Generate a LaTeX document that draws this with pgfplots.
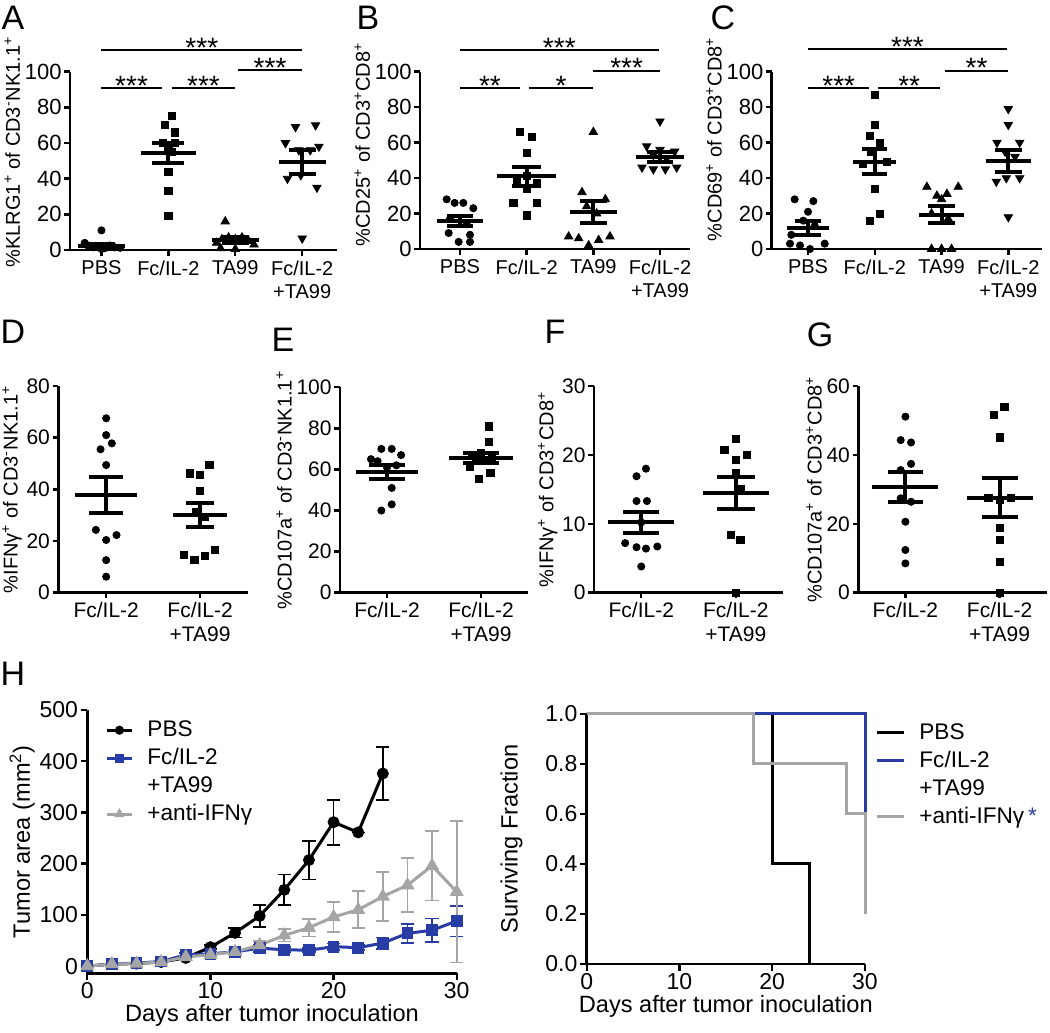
\documentclass[border=0pt]{standalone}
\usepackage{fontspec}
\setmainfont{Liberation Sans}
\usepackage{pgfplots}
\pgfplotsset{compat=1.18}
\definecolor{gpblue}{RGB}{40,60,165}
\definecolor{gpgrey}{RGB}{165,165,165}

\pgfplotsset{
  gp/.style={scale only axis, anchor=south west, axis lines=left,
    axis line style={-, line width=1.4pt, black},
    tick align=outside, major tick length=2.8pt,
    tick style={black, line width=1.2pt},
    /pgf/number format/assume math mode=true, clip=false,
    tick label style={font=\fontsize{11}{12}\selectfont, inner sep=1.2pt},
    label style={font=\fontsize{10}{11}\selectfont},
    ylabel style={inner sep=1pt}},
  cat4/.style={xtick={1,2,3,4}, xticklabels={PBS,Fc/IL-2,TA99,{Fc/IL-2\\+TA99}},
    xticklabel style={align=center, font=\fontsize{10}{11.5}\selectfont, inner sep=2.5pt},
    ymin=0, ymax=100, ytick={0,20,...,100}},
  cat2/.style={xtick={1,2}, xticklabels={Fc/IL-2,{Fc/IL-2\\+TA99}},
    xticklabel style={align=center, font=\fontsize{10.5}{12}\selectfont, inner sep=2pt},
    yticklabel style={font=\fontsize{10.5}{12}\selectfont},
    xmin=0.5, xmax=2.5, ymin=0},
  dot/.style={only marks, mark=*, mark size=1.8pt, black},
  sq/.style={only marks, mark=square*, mark size=1.8pt, black},
  tri/.style={only marks, mark=triangle*, mark size=2.4pt, black},
  dtri/.style={only marks, mark=triangle*, mark size=2.4pt, black, mark options={rotate=180}},
  msem/.style={black, line width=2pt, mark=none},
  hleg/.style={legend style={draw=none, fill=none, anchor=north west,
      inner sep=0pt, column sep=6pt, font=\fontsize{11.3}{12}\selectfont,
      nodes={text height=9.3pt, text depth=2.7pt, inner sep=1pt}},
    legend cell align=left},
}

% mean line with SEM whiskers: x, mean, sem, half width of mean line, half width of caps
\newcommand\msem[5]{%
  \pgfmathsetmacro\mA{#1-#4}\pgfmathsetmacro\mB{#1+#4}%
  \pgfmathsetmacro\cA{#1-#5}\pgfmathsetmacro\cB{#1+#5}%
  \pgfmathsetmacro\eL{#2-#3}\pgfmathsetmacro\eH{#2+#3}%
  \edef\msemdo{%
    \noexpand\addplot[msem] coordinates {(\mA,#2) (\mB,#2)};
    \noexpand\addplot[msem] coordinates {(\cA,\eL) (\cB,\eL)};
    \noexpand\addplot[msem] coordinates {(\cA,\eH) (\cB,\eH)};
    \noexpand\addplot[msem] coordinates {(#1,\eL) (#1,\eH)};
  }\msemdo}
% significance bar
\newcommand\sig[4]{\draw[line width=0.9pt] (axis cs:#1,#3) -- (axis cs:#2,#3)
  node[midway, anchor=base, yshift=-3.6pt, inner sep=0pt, font=\fontsize{14}{14}\selectfont] {#4};}

\begin{document}
\begin{tikzpicture}
\useasboundingbox (0,0) rectangle (525pt,516.5pt);

% ---------------- A
\begin{axis}[gp, cat4, at={(35pt,391.5pt)}, width=133.5pt, height=89.15pt,
  xmin=0.53, xmax=4.52,
  ylabel={\%KLRG1\textsuperscript{+} of CD3\textsuperscript{-}NK1.1\textsuperscript{+}},
  ylabel style={at={(ticklabel cs:0.55)}}]
\addplot[dot] coordinates {(1.0,11) (0.75,4) (0.8,2.5) (0.88,1.5) (0.95,2) (1.05,1) (1.12,2.5) (1.2,1.5) (1.28,1.2) (1.0,0.5)};
\addplot[sq] coordinates {(2.05,75) (1.95,70) (2.1,66) (1.92,60) (2.1,60) (2.0,57) (2.05,55) (2.0,44) (2.0,33) (2.0,19)};
\addplot[tri] coordinates {(2.85,16) (2.72,4) (2.8,6) (2.9,7) (3.0,6) (3.1,7) (3.2,5) (3.28,3) (2.78,1) (3.0,0.5)};
\addplot[dtri] coordinates {(3.9,69) (4.2,70) (3.75,60) (4.25,58) (3.95,56) (4.12,56) (3.78,40) (3.98,42) (4.22,35) (4.0,6.5)};
\msem{1}{2.5}{1.0}{0.35}{0.2}
\msem{2}{54.3}{5.7}{0.41}{0.24}
\msem{3}{5.6}{1.6}{0.35}{0.2}
\msem{4}{49.3}{6.5}{0.35}{0.2}
\sig{1}{4}{112.2}{***}
\sig{3.04}{4}{101}{***}
\sig{1}{1.9}{90.7}{***}
\sig{2.05}{3}{90.7}{***}
\end{axis}

% ---------------- B
\begin{axis}[gp, cat4, at={(210pt,392pt)}, width=135pt, height=88.65pt,
  xmin=0.4, xmax=4.45,
  ylabel={\%CD25\textsuperscript{+} of  CD3\textsuperscript{+}CD8\textsuperscript{+}},
  ylabel style={at={(ticklabel cs:0.59)}}]
\addplot[dot] coordinates {(0.8,28) (0.92,26) (1.05,26) (1.2,23) (0.85,17) (1.1,14) (0.83,9) (1.15,8) (0.98,4) (1.15,4)};
\addplot[sq] coordinates {(1.9,66) (2.08,63) (2.0,54) (1.85,39) (2.15,37) (2.0,34) (1.8,26) (2.15,26) (2.0,19) (2.0,41)};
\addplot[tri] coordinates {(3.0,66) (2.83,32) (3.18,28) (2.9,24) (3.05,20) (2.63,7) (3.25,7) (3.08,5) (2.93,2) (2.78,6)};
\addplot[dtri] coordinates {(4.0,72) (3.8,58) (4.0,56) (4.22,55) (3.9,53) (4.1,51) (3.73,46) (3.9,45) (4.08,45) (4.25,46)};
\msem{1}{15.9}{2.9}{0.35}{0.2}
\msem{2}{40.9}{5.2}{0.44}{0.22}
\msem{3}{20.8}{6.3}{0.35}{0.2}
\msem{4}{51.9}{2.8}{0.355}{0.2}
\sig{1}{3.98}{112.2}{***}
\sig{3}{4}{100.6}{***}
\sig{1}{1.9}{90.6}{**}
\sig{2.03}{3}{90.6}{*}
\end{axis}

% ---------------- C
\begin{axis}[gp, cat4, at={(385.85pt,392pt)}, width=135pt, height=88.65pt,
  xmin=0.456, xmax=4.5,
  ylabel={\%CD69\textsuperscript{+} of  CD3\textsuperscript{+}CD8\textsuperscript{+}},
  ylabel style={at={(ticklabel cs:0.62)}}]
\addplot[dot] coordinates {(0.8,28) (1.08,27) (1.0,21) (0.93,16) (1.1,13) (0.75,8) (0.73,3) (0.88,2) (1.25,3) (1.03,0)};
\addplot[sq] coordinates {(2.0,87) (2.0,70) (1.93,64) (2.08,60) (1.95,55) (2.18,49) (1.82,48) (2.0,34) (2.08,20) (1.93,16)};
\addplot[tri] coordinates {(2.78,35) (3.25,35) (2.93,30) (3.08,31) (3.0,28) (2.85,20) (3.1,17) (2.85,0) (3.0,0) (3.15,0)};
\addplot[dtri] coordinates {(4.0,79) (4.0,70) (3.83,60) (4.17,60) (3.95,55) (4.1,52) (3.82,38) (3.97,40) (4.17,40) (4.0,18)};
\msem{1}{11.8}{3.8}{0.31}{0.19}
\msem{2}{49.3}{7}{0.32}{0.19}
\msem{3}{19.3}{4.8}{0.34}{0.2}
\msem{4}{49.7}{6.1}{0.34}{0.2}
\sig{1}{3.98}{112.6}{***}
\sig{3.05}{4}{100.6}{**}
\sig{1}{1.92}{90.6}{***}
\sig{2.05}{2.98}{90.6}{**}
\end{axis}

% ---------------- D
\begin{axis}[gp, cat2, at={(29.15pt,220.15pt)}, width=94.85pt, height=103.35pt,
  xmin=0.49, xmax=2.51, ymax=80, ytick={0,20,...,80},
  ylabel={\%IFNγ\textsuperscript{+} of CD3\textsuperscript{-}NK1.1\textsuperscript{+}}]
\addplot[dot] coordinates {(1.0,67.5) (1.0,61) (1.06,57.8) (0.94,55.5) (1.0,49.4) (0.89,24.3) (1.11,22.3) (1.0,20.4) (1.0,12.6) (1.0,6.2)};
\addplot[sq] coordinates {(2.1,49.4) (1.89,46.2) (2.0,45.5) (2.0,39.5) (1.96,31.4) (2.05,29.4) (2.16,16.5) (1.83,14.6) (1.94,12.6) (2.05,14.2)};
\msem{1}{37.8}{7.0}{0.33}{0.18}
\msem{2}{30}{4.6}{0.29}{0.15}
\end{axis}

% ---------------- E
\begin{axis}[gp, cat2, at={(170pt,220.15pt)}, width=94pt, height=102.7pt,
  ymax=100, ytick={0,20,...,100},
  ylabel={\%CD107a\textsuperscript{+} of CD3\textsuperscript{-}NK1.1\textsuperscript{+}}]
\addplot[dot] coordinates {(0.94,70) (1.05,70) (1.15,67) (0.83,65) (0.9,64) (1.1,62) (1.0,61) (1.05,51) (1.05,43) (0.94,40)};
\addplot[sq] coordinates {(2.08,81) (2.08,73.5) (2.0,68) (1.9,67) (2.12,66) (1.95,65) (2.05,64.5) (1.88,61.5) (2.1,58.5) (1.98,55.5)};
\msem{1}{58.9}{3.5}{0.33}{0.19}
\msem{2}{65.7}{2.4}{0.34}{0.19}
\end{axis}

% ---------------- F
\begin{axis}[gp, cat2, at={(297pt,220.15pt)}, width=94.5pt, height=103.35pt,
  ymax=30, ytick={0,10,20,30},
  ylabel={\%IFNγ\textsuperscript{+} of CD3\textsuperscript{+}CD8\textsuperscript{+}}]
\addplot[dot] coordinates {(1.05,18) (0.95,16.9) (0.95,13.3) (1.06,13.3) (1.0,10.2) (0.83,7.2) (0.95,6.6) (1.05,6.4) (1.17,6.7) (1.0,3.8)};
\addplot[sq] coordinates {(2.0,22.3) (1.88,20.7) (2.12,20) (2.0,19.3) (2.0,17.3) (2.05,15) (1.95,8.4) (2.05,7.7) (2.0,0)};
\msem{1}{10.2}{1.5}{0.35}{0.19}
\msem{2}{14.5}{2.3}{0.35}{0.2}
\end{axis}

% ---------------- G
\begin{axis}[gp, cat2, at={(429.15pt,220.15pt)}, width=94.2pt, height=103.35pt,
  ymax=60, ytick={0,20,40,60},
  ylabel={\%CD107a\textsuperscript{+} of CD3\textsuperscript{+}CD8\textsuperscript{+}}]
\addplot[dot] coordinates {(1.0,51.1) (0.95,44.3) (1.06,43.6) (1.06,37.4) (0.95,35.6) (0.95,27.4) (1.06,26.4) (1.0,20.6) (1.0,12.4) (1.0,8.5)};
\addplot[sq] coordinates {(1.94,51.6) (2.05,54) (2.0,45.1) (1.88,27.6) (2.0,26.9) (2.12,27.6) (2.0,18.7) (2.0,15.3) (2.0,9.0) (2.0,0)};
\msem{1}{30.8}{4.35}{0.35}{0.19}
\msem{2}{27.6}{5.65}{0.35}{0.19}
\end{axis}

% ---------------- H left: tumour growth
\begin{axis}[gp, hleg, at={(43.65pt,29.85pt)}, width=184.7pt, height=131.65pt,
  xmin=0, xmax=30, ymin=-14, ymax=500, xtick={0,10,20,30}, ytick={0,100,...,500},
  major tick length=3.3pt,
  tick label style={font=\fontsize{11.5}{12}\selectfont},
  label style={font=\fontsize{11.8}{12.5}\selectfont},
  xlabel={Days after tumor inoculation}, xlabel style={yshift=2pt},
  ylabel={Tumor area (mm\textsuperscript{2})},
  legend style={at={(0.048,0.978)}},
  legend image code/.code={\draw[mark repeat=2,mark phase=2,#1,mark size=1.5pt] plot coordinates {(0pt,0pt) (6.25pt,0pt) (12.5pt,0pt)};}]
\addplot[black, line width=1.5pt, mark=*, mark size=2.2pt,
  error bars/.cd, y dir=both, y explicit,
  error bar style={line width=0.9pt},
  error mark options={rotate=90, mark size=3.3pt, line width=0.9pt}]
  table[x=x, y=y, y error=e] {
x y e
0 0 0
2 4 1
4 5 1
6 8 2
8 16 3
10 37 4
12 65 9
14 98 21
16 149 30
18 207 38
20 281 44
22 261 0
24 376 51
};
\addlegendentry{PBS}
\addplot[gpblue, line width=1.5pt, mark=square*, mark size=2.2pt,
  error bars/.cd, y dir=both, y explicit,
  error bar style={line width=0.9pt},
  error mark options={rotate=90, mark size=3.3pt, line width=0.9pt}]
  table[x=x, y=y, y error=e] {
x y e
0 0 0
2 4 1
4 6 1
6 9 2
8 22 3
10 24 3
12 28 4
14 35 7
16 32 5
18 31 4
20 38 6
22 36 5
24 45 11
26 64 19
28 70 23
30 88 30
};
\addlegendentry{Fc/IL-2}
\addlegendimage{empty legend}
\addlegendentry{+TA99}
\addplot[gpgrey, line width=1.5pt, mark=triangle*, mark size=2.6pt,
  error bars/.cd, y dir=both, y explicit,
  error bar style={line width=0.9pt},
  error mark options={rotate=90, mark size=3.3pt, line width=0.9pt}]
  table[x=x, y=y, y error=e] {
x y e
0 0 0
2 4 1
4 5 1
6 8 2
8 18 2
10 22 3
12 28 4
14 41 8
16 60 12
18 75 17
20 96 29
22 110 36
24 136 48
26 158 53
28 196 68
30 145 138
};
\addlegendentry{+anti-IFNγ}
\end{axis}

% ---------------- H right: survival
\begin{axis}[gp, hleg, at={(293.35pt,34.5pt)}, width=139.15pt, height=125pt,
  xmin=0, xmax=30, ymin=0, ymax=1, xtick={0,10,20,30},
  ytick={0,0.2,0.4,0.6,0.8,1}, yticklabels={0.0,0.2,0.4,0.6,0.8,1.0},
  major tick length=3.3pt,
  tick label style={font=\fontsize{11.5}{12}\selectfont},
  label style={font=\fontsize{11.8}{12.5}\selectfont},
  xlabel={Days after tumor inoculation}, xlabel style={yshift=2pt},
  ylabel={Surviving Fraction}, ylabel style={at={(ticklabel cs:0.5,9pt)}},
  legend style={at={(1.036,0.982)}},
  legend image code/.code={\draw[#1] (0pt,0pt) -- (13.5pt,0pt);}]
\addplot[black, line width=1.5pt, const plot] coordinates {(0,1) (20,0.4) (24,0)};
\addlegendentry{PBS}
\addplot[gpblue, line width=1.5pt, const plot] coordinates {(0,1) (30,0.6)};
\addlegendentry{Fc/IL-2}
\addlegendimage{empty legend}
\addlegendentry{+TA99}
\addplot[gpgrey, line width=1.5pt, const plot] coordinates {(0,1) (18,0.8) (28,0.6) (30,0.2)};
\addlegendentry{+anti-IFNγ\,\textcolor{gpblue}{*}}
\end{axis}

% panel letters
\begin{scope}[every node/.style={font=\fontsize{17}{17}\selectfont, inner sep=0pt}]
\node at (6.5pt,507.5pt) {A};
\node at (184pt,507.5pt) {B};
\node at (361.5pt,507.5pt) {C};
\node at (6.5pt,350.5pt) {D};
\node at (141.5pt,346.5pt) {E};
\node at (277.5pt,350.5pt) {F};
\node at (410pt,349pt) {G};
\node at (6.5pt,179.5pt) {H};
\end{scope}
\end{tikzpicture}
\end{document}
